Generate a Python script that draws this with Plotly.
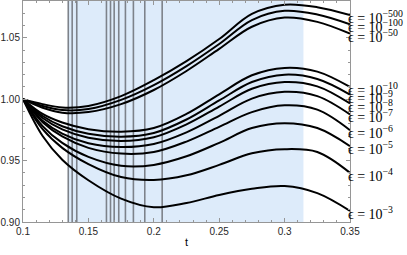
import plotly.graph_objects as go

# ---------------- data ----------------
t = [0.1, 0.115, 0.13, 0.15, 0.175, 0.2, 0.225, 0.25, 0.275, 0.3, 0.325, 0.35]

eps_exponents = ["−500", "−100", "−50", "−10", "−9", "−8", "−7", "−6", "−5", "−4", "−3"]

y_m500 = [1.000, 0.996, 0.9933, 0.9945, 1.0025, 1.0155, 1.031, 1.049, 1.0695, 1.077, 1.075, 1.0685]
y_m100 = [1.000, 0.9945, 0.9912, 0.992, 0.9995, 1.0115, 1.027, 1.045, 1.0645, 1.072, 1.069, 1.061]
y_m50 = [1.000, 0.993, 0.989, 0.9895, 0.996, 1.0075, 1.023, 1.041, 1.059, 1.0665, 1.063, 1.0534]
y_m10 = [1.000, 0.988, 0.981, 0.9756, 0.9735, 0.9765, 0.988, 1.004, 1.0195, 1.0255, 1.0225, 1.010]
y_m9 = [1.000, 0.9863, 0.978, 0.9719, 0.9695, 0.9725, 0.9835, 0.999, 1.014, 1.020, 1.0165, 1.0038]
y_m8 = [1.000, 0.9847, 0.9755, 0.9687, 0.966, 0.969, 0.9795, 0.994, 1.0085, 1.014, 1.0105, 0.9965]
y_m7 = [1.000, 0.9824, 0.972, 0.9641, 0.961, 0.9635, 0.973, 0.9865, 1.0005, 1.006, 1.0025, 0.9876]
y_m6 = [1.000, 0.9813, 0.9697, 0.9604, 0.9557, 0.957, 0.9655, 0.9775, 0.9895, 0.995, 0.9915, 0.9748]
y_m5 = [1.000, 0.9781, 0.9644, 0.953, 0.9458, 0.9465, 0.9535, 0.9645, 0.9765, 0.9805, 0.9765, 0.9618]
y_m4 = [1.000, 0.9756, 0.9604, 0.9472, 0.9366, 0.9342, 0.938, 0.9465, 0.956, 0.9593, 0.957, 0.940]
y_m3 = [1.000, 0.970, 0.9507, 0.934, 0.919, 0.912, 0.9155, 0.922, 0.927, 0.9293, 0.9235, 0.909]

series = [y_m500, y_m100, y_m50, y_m10, y_m9, y_m8, y_m7, y_m6, y_m5, y_m4, y_m3]

# vertical marker positions and shaded interval
vlines_t = [0.1346, 0.1376, 0.1411, 0.1638, 0.1669, 0.1697, 0.1732, 0.1783, 0.1844, 0.1931, 0.2064]
shaded_interval = [0.1346, 0.3144]

x_tickvals = [0.1, 0.15, 0.2, 0.25, 0.3, 0.35]
x_ticktext = ["0.1", "0.15", "0.2", "0.25", "0.3", "0.35"]
y_tickvals = [0.90, 0.95, 1.00, 1.05]
y_ticktext = ["0.90", "0.95", "1.00", "1.05"]

# ---------------- figure ----------------
fig = go.Figure()

for ys in series:
    fig.add_trace(go.Scatter(
        x=t, y=ys, mode="lines",
        line=dict(color="black", width=2, shape="spline", smoothing=1.0),
        showlegend=False, hoverinfo="skip",
    ))

fig.add_shape(type="rect", xref="x", yref="paper",
              x0=shaded_interval[0], x1=shaded_interval[1], y0=0, y1=1,
              fillcolor="rgb(221,235,250)", line=dict(width=0), layer="below")

for xv in vlines_t:
    fig.add_shape(type="line", xref="x", yref="paper", x0=xv, x1=xv, y0=0, y1=1,
                  line=dict(color="rgb(125,130,138)", width=1.6), layer="below")

for ys, ex in zip(series, eps_exponents):
    fig.add_annotation(
        x=t[-1], y=ys[-1], xref="x", yref="y",
        text="ϵ = 10<sup>" + ex + "</sup>",
        showarrow=False, xanchor="left", yanchor="middle",
        xshift=-4, yshift=-2,
        font=dict(family="Liberation Serif", size=14, color="black"),
    )

axis_common = dict(
    showline=True, linecolor="rgb(150,150,150)", linewidth=1,
    mirror="ticks", ticks="inside", ticklen=4, tickcolor="rgb(150,150,150)",
    showgrid=False, zeroline=False, automargin=False,
    tickfont=dict(family="Liberation Sans", size=10, color="rgb(40,40,40)"),
)

fig.update_xaxes(
    range=[0.1, 0.35], tickvals=x_tickvals, ticktext=x_ticktext,
    minor=dict(ticks="inside", ticklen=2, dtick=0.01, tickcolor="rgb(150,150,150)"),
    title=dict(text="t", font=dict(family="Liberation Sans", size=11, color="black"), standoff=2),
    **axis_common,
)
fig.update_yaxes(
    range=[0.9, 1.08], tickvals=y_tickvals, ticktext=y_ticktext,
    minor=dict(ticks="inside", ticklen=2, dtick=0.01, tickcolor="rgb(150,150,150)"),
    **axis_common,
)

fig.update_layout(
    width=407, height=255,
    margin=dict(l=23, r=57, t=1, b=33),
    plot_bgcolor="white", paper_bgcolor="white",
)

fig.write_html("out.html",
               config={"displayModeBar": False, "staticPlot": True},
               post_script="document.body.style.margin='0';document.body.style.overflow='hidden';")
